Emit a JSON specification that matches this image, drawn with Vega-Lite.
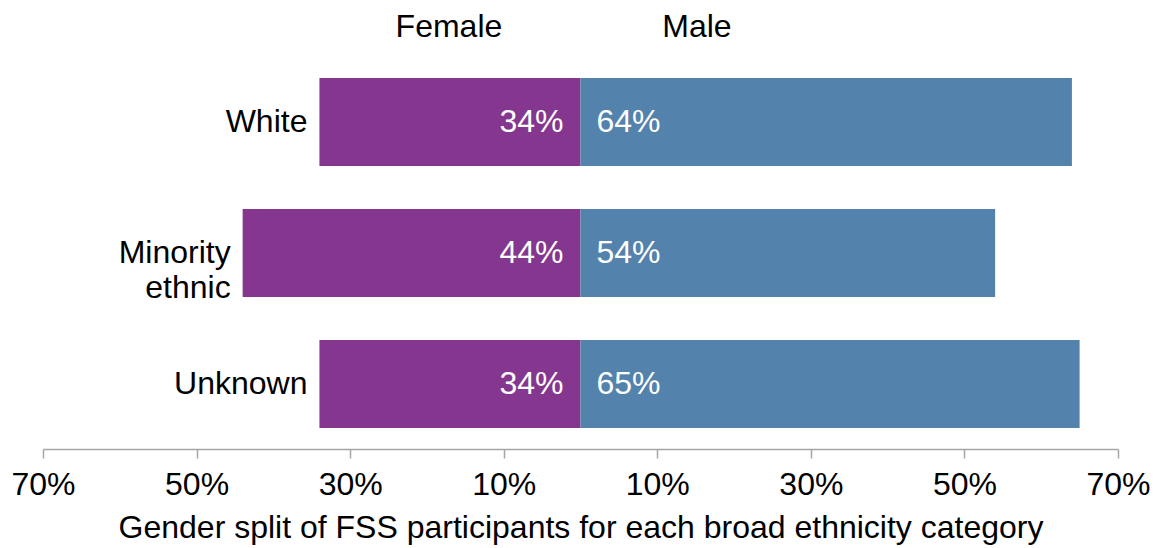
{
  "$schema": "https://vega.github.io/schema/vega-lite/v6.json",
  "width": 1075,
  "height": 392,
  "autosize": "none",
  "padding": {"left": 43, "top": 57, "right": 40, "bottom": 99},
  "config": {"font": "Liberation Sans", "view": {"stroke": null}},
  "data": {
    "values": [
      {"ethnicity": "White", "gender": "Female", "share": 0.34},
      {"ethnicity": "White", "gender": "Male", "share": 0.64},
      {"ethnicity": "Minority ethnic", "gender": "Female", "share": 0.44},
      {"ethnicity": "Minority ethnic", "gender": "Male", "share": 0.54},
      {"ethnicity": "Unknown", "gender": "Female", "share": 0.34},
      {"ethnicity": "Unknown", "gender": "Male", "share": 0.65}
    ]
  },
  "encoding": {
    "y": {
      "field": "ethnicity",
      "type": "nominal",
      "sort": ["White", "Minority ethnic", "Unknown"],
      "axis": null,
      "scale": {"paddingInner": 0.328, "paddingOuter": 0.16}
    }
  },
  "layer": [
    {
      "transform": [{"filter": "datum.gender === 'Female'"}],
      "encoding": {
        "x": {
          "field": "share",
          "type": "quantitative",
          "scale": {"domain": [-0.7, 0.7], "reverse": true, "nice": false, "zero": false},
          "axis": {
            "orient": "top",
            "values": [0.172, -0.151],
            "labelExpr": "datum.value > 0 ? 'Female' : 'Male'",
            "domain": false,
            "ticks": false,
            "tickSize": 0,
            "grid": false,
            "title": null,
            "labelFontSize": 32,
            "labelColor": "#000000",
            "labelPadding": 14,
            "labelFlush": false,
            "labelOverlap": false,
            "labelFont": "Liberation Sans"
          }
        }
      },
      "layer": [
        {
          "mark": {"type": "bar", "color": "#85378F"},
          "encoding": {"x2": {"datum": 0}}
        },
        {
          "mark": {"type": "text", "align": "right", "baseline": "middle", "dx": -12, "fontSize": 32, "color": "#000000", "lineBreak": " ", "lineHeight": 35},
          "encoding": {"text": {"field": "ethnicity"}}
        },
        {
          "mark": {"type": "text", "align": "right", "baseline": "middle", "dx": -17, "fontSize": 32, "color": "#ffffff"},
          "encoding": {
            "x": {"datum": 0},
            "text": {"field": "share", "format": ".0%"}
          }
        }
      ]
    },
    {
      "transform": [{"filter": "datum.gender === 'Male'"}],
      "encoding": {
        "x": {
          "field": "share",
          "type": "quantitative",
          "scale": {"domain": [-0.7, 0.7], "nice": false, "zero": false},
          "axis": {
            "orient": "bottom",
            "values": [-0.7, -0.5, -0.3, -0.1, 0.1, 0.3, 0.5, 0.7],
            "labelExpr": "format(abs(datum.value), '.0%')",
            "grid": false,
            "domainColor": "#A6A6A6",
            "domainWidth": 1.5,
            "tickColor": "#A6A6A6",
            "tickWidth": 1.5,
            "tickSize": 9,
            "labelFontSize": 32,
            "labelColor": "#000000",
            "labelPadding": 11,
            "labelFlush": false,
            "labelOverlap": false,
            "labelFont": "Liberation Sans",
            "title": "Gender split of FSS participants for each broad ethnicity category",
            "titleFontSize": 32,
            "titleFontWeight": "normal",
            "titleColor": "#000000",
            "titleFont": "Liberation Sans",
            "titlePadding": 12
          }
        }
      },
      "layer": [
        {
          "mark": {"type": "bar", "color": "#5383AC"},
          "encoding": {"x2": {"datum": 0}}
        },
        {
          "mark": {"type": "text", "align": "left", "baseline": "middle", "dx": 16, "fontSize": 32, "color": "#ffffff"},
          "encoding": {
            "x": {"datum": 0},
            "text": {"field": "share", "format": ".0%"}
          }
        },
        {
          "mark": {"type": "rule", "color": "#A6A6A6", "strokeWidth": 1.5},
          "encoding": {"x": {"datum": 0}}
        }
      ]
    }
  ],
  "resolve": {"scale": {"x": "independent"}}
}
